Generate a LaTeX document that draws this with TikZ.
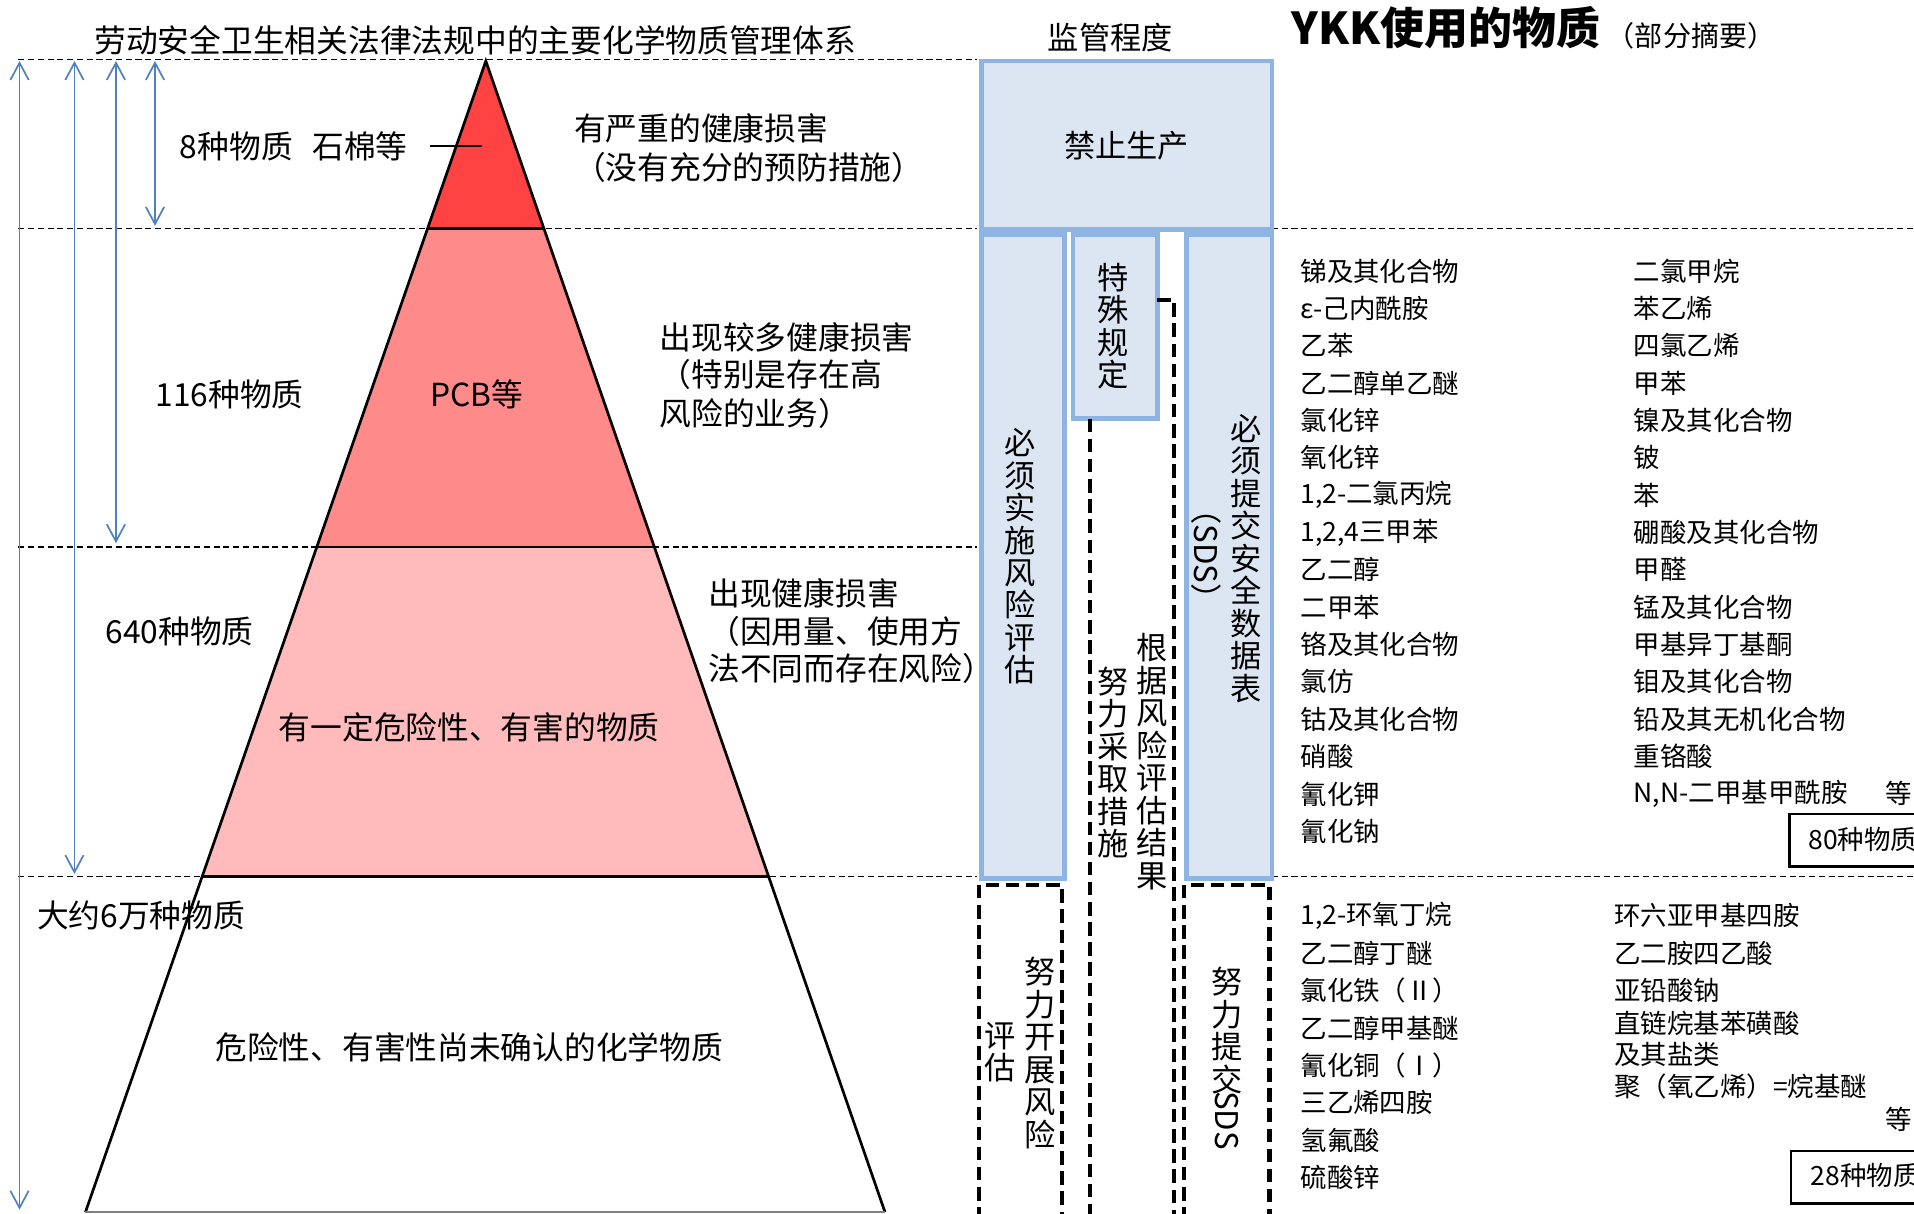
\documentclass[tikz,border=0pt]{standalone}
\usepackage{fontspec}
\usepackage{graphicx}
\setmainfont{Noto Sans CJK SC}
\usetikzlibrary{arrows.meta}
\definecolor{redA}{HTML}{FF4343}
\definecolor{redB}{HTML}{FF8A8A}
\definecolor{redC}{HTML}{FFBBBB}
\definecolor{boxfill}{HTML}{DCE6F2}
\definecolor{boxline}{HTML}{8EB4E3}
\definecolor{arrowblue}{HTML}{4F81BD}
\begin{document}
\begin{tikzpicture}[x=0.5pt,y=-0.5pt,
  txt/.style={anchor=west,inner sep=0pt,font=\fontsize{13pt}{13.3pt}\selectfont},
  lst/.style={anchor=west,inner sep=0pt,font=\fontsize{10.85pt}{13pt}\selectfont},
  vtxt/.style={anchor=north,inner sep=0pt,align=center,font=\fontsize{12.8pt}{13.3pt}\selectfont},
  guide/.style={draw=black,line width=0.55pt,dash pattern=on 2.5pt off 1.5pt},
  thickdash/.style={draw=black,line width=1.65pt,dash pattern=on 5.5pt off 2.75pt},
  dimarrow/.style={draw=arrowblue,line width=0.7pt,
    {Straight Barb[length=7pt,width=7.5pt]}-{Straight Barb[length=7pt,width=7.5pt]}},
  regbox/.style={draw=boxline,fill=boxfill,line width=2pt},
  countbox/.style={draw=black,line width=1pt},
  pyr/.style={draw=black,line width=1.1pt}]
\useasboundingbox (0,0) rectangle (1568,994);
\clip (0,0) rectangle (1568,994);

% ---------- guide lines ----------
\coordinate (g1l) at (15,49);   \coordinate (g1r) at (800,49);
\coordinate (g2l) at (15,187);  \coordinate (g2r) at (800,187);
\coordinate (g3l) at (15,448);  \coordinate (g3r) at (800,448);
\coordinate (g4l) at (15,718);  \coordinate (g4r) at (800,718);
\coordinate (g2a) at (1042,187); \coordinate (g2b) at (1568,187);
\coordinate (g4a) at (1042,718); \coordinate (g4b) at (1568,718);
\draw[guide] (g1l) -- (g1r);
\draw[guide] (g2l) -- (g2r);
\draw[guide] (g3l) -- (g3r);
\draw[guide] (g4l) -- (g4r);
\draw[guide] (g2a) -- (g2b);
\draw[guide] (g4a) -- (g4b);

% ---------- dimension arrows ----------
\coordinate (a1t) at (16,50);  \coordinate (a1b) at (16,991);
\coordinate (a2t) at (61,50);  \coordinate (a2b) at (61,716);
\coordinate (a3t) at (95,50);  \coordinate (a3b) at (95,445);
\coordinate (a4t) at (127,50); \coordinate (a4b) at (127,185);
\draw[dimarrow] (a1t) -- (a1b);
\draw[dimarrow] (a2t) -- (a2b);
\draw[dimarrow] (a3t) -- (a3b);
\draw[dimarrow] (a4t) -- (a4b);

% ---------- pyramid ----------
\coordinate (apex) at (398,50);
\coordinate (bl) at (70,993);
\coordinate (br) at (725,993);
\coordinate (l1) at (350.35,187); \coordinate (r1) at (445.5,187);
\coordinate (l2) at (259.6,448);  \coordinate (r2) at (536.0,448);
\coordinate (l3) at (165.65,718); \coordinate (r3) at (629.6,718);
\fill[redA] (apex) -- (r1) -- (l1) -- cycle;
\fill[redB] (l1) -- (r1) -- (r2) -- (l2) -- cycle;
\fill[redC] (l2) -- (r2) -- (r3) -- (l3) -- cycle;
\draw[pyr] (bl) -- (apex) -- (br);
\draw[pyr] (l1) -- (r1);
\draw[pyr] (l2) -- (r2);
\draw[pyr] (l3) -- (r3);
\draw[draw=gray,line width=1pt] (bl) -- (br);

% ---------- left texts ----------
\node[txt] (title) at (77,33) {劳动安全卫生相关法律法规中的主要化学物质管理体系};
\node[txt] (n8) at (147,120) {8种物质\hspace{8pt}石棉等};
\coordinate (tickA) at (352,120); \coordinate (tickB) at (395,120);
\draw[black,line width=0.8pt] (tickA) -- (tickB);
\node[txt] (d1a) at (470,105) {有严重的健康损害};
\node[txt] (d1b) at (470,137) {（没有充分的预防措施）};
\node[txt] (n116) at (127,323) {116种物质};
\node[txt] (pcb) at (352,323) {PCB等};
\node[txt] (d2a) at (540,276) {出现较多健康损害};
\node[txt] (d2b) at (540,307) {（特别是存在高};
\node[txt] (d2c) at (540,339) {风险的业务）};
\node[txt] (n640) at (86,517) {640种物质};
\node[txt] (d3a) at (580,486) {出现健康损害};
\node[txt] (d3b) at (580,517) {（因用量、使用方};
\node[txt] (d3c) at (580,548) {法不同而存在风险）};
\node[txt] (mid3) at (228,596) {有一定危险性、有害的物质};
\node[txt] (n6w) at (30,750) {大约6万种物质};
\node[txt] (base) at (176,858) {危险性、有害性尚未确认的化学物质};

% ---------- headers ----------
\node[txt,font=\fontsize{12.8pt}{13.3pt}\selectfont] (hdr) at (858,31) {监管程度};
\node[txt,font=\fontsize{18pt}{19pt}\selectfont\bfseries] (ykk) at (1058,23) {YKK使用的物质};
\node[txt,font=\fontsize{11.5pt}{12pt}\selectfont] (ykks) at (1316,29) {（部分摘要）};

% ---------- regulation boxes ----------
\node[regbox,minimum width=119pt,minimum height=69pt,inner sep=0pt,anchor=north west,
      font=\fontsize{12.8pt}{13.3pt}\selectfont] (ban) at (802,48) {禁止生产};
\node[regbox,minimum width=34pt,minimum height=264pt,anchor=north west] (ra) at (802,190) {};
\node[regbox,minimum width=34.5pt,minimum height=75.5pt,anchor=north west] (sp) at (877,190) {};
\node[regbox,minimum width=35pt,minimum height=264pt,anchor=north west] (sds) at (970,190) {};

\node[vtxt] (ratxt) at (836,350.6) {必\\须\\实\\施\\风\\险\\评\\估};
\node[vtxt] (sptxt) at (911.6,215) {特\\殊\\规\\定};
\node[vtxt] (sdstxt) at (1021,339) {必\\须\\提\\交\\安\\全\\数\\据\\表};
\node[inner sep=0pt,rotate=-90,font=\fontsize{12.8pt}{13.3pt}\selectfont] (sdsabbr) at (988.5,454) {（SDS）};

% ---------- dashed effort lines ----------
\coordinate (spb) at (893,343);
\coordinate (spbEnd) at (893,1000);
\draw[thickdash] (spb) -- (spbEnd);
\coordinate (spr) at (948,246);
\coordinate (sprc) at (962,246);
\coordinate (sprEnd) at (962,1000);
\draw[thickdash] (spr) -- (sprc) -- (sprEnd);
\coordinate (c1) at (802,1000); \coordinate (c2) at (802,725);
\coordinate (c3) at (870,725);  \coordinate (c4) at (870,1000);
\draw[thickdash] (c1) -- (c2) -- (c3) -- (c4);
\coordinate (e1) at (970,1000); \coordinate (e2) at (970,725);
\coordinate (e3) at (1040,725); \coordinate (e4) at (1040,1000);
\draw[thickdash] (e1) -- (e2) -- (e3) -- (e4);

\node[vtxt] (eff1) at (912,546) {努\\力\\采\\取\\措\\施};
\node[vtxt] (eff2) at (943.5,518.6) {根\\据\\风\\险\\评\\估\\结\\果};
\node[vtxt] (eff3) at (852,784) {努\\力\\开\\展\\风\\险};
\node[vtxt] (eff3b) at (819,837) {评\\估};
\node[vtxt] (eff4) at (1005,792) {努\\力\\提\\交};
\node[inner sep=0pt,rotate=-90,font=\fontsize{12.8pt}{13.3pt}\selectfont] (eff4s) at (1005,918) {SDS};

% ---------- substance lists ----------
\foreach \s [count=\i from 0] in {锑及其化合物,ε-己内酰胺,乙苯,乙二醇单乙醚,氯化锌,氧化锌,{1,2-二氯丙烷},{1,2,4三甲苯},乙二醇,二甲苯,铬及其化合物,氯仿,钴及其化合物,硝酸,氰化钾,氰化钠}
  \node[lst] (la\i) at (1065,222+30.6*\i) {\s};
\foreach \s [count=\i from 0] in {二氯甲烷,苯乙烯,四氯乙烯,甲苯,镍及其化合物,铍,苯,硼酸及其化合物,甲醛,锰及其化合物,甲基异丁基酮,钼及其化合物,铅及其无机化合物,重铬酸,{N,N-二甲基甲酰胺}}
  \node[lst] (lb\i) at (1338,222+30.6*\i) {\s};
\node[lst] (etc1) at (1544,650) {等};
\node[countbox,anchor=north west,minimum width=70pt,minimum height=21.5pt] (cnt80) at (1465,666) {};
\node[lst] (cnt80t) at (1481,688) {80种物质};

\foreach \s [count=\i from 0] in {{1,2-环氧丁烷},乙二醇丁醚,氯化铁（Ⅱ）,乙二醇甲基醚,氰化铜（Ⅰ）,三乙烯四胺,氢氟酸,硫酸锌}
  \node[lst] (lc\i) at (1065,750+30.7*\i) {\s};
\node[lst] (ld0) at (1322,750) {环六亚甲基四胺};
\node[lst] (ld1) at (1322,781) {乙二胺四乙酸};
\node[lst] (ld2) at (1322,811) {亚铅酸钠};
\node[lst] (ld3) at (1322,838) {直链烷基苯磺酸};
\node[lst] (ld4) at (1322,864) {及其盐类};
\node[lst] (ld5) at (1322,890) {聚（氧乙烯）=烷基醚};
\node[lst] (etc2) at (1544,917) {等};
\node[countbox,anchor=north west,minimum width=70pt,minimum height=21.5pt] (cnt28) at (1466,942) {};
\node[lst] (cnt28t) at (1483,963) {28种物质};
\end{tikzpicture}
\end{document}
